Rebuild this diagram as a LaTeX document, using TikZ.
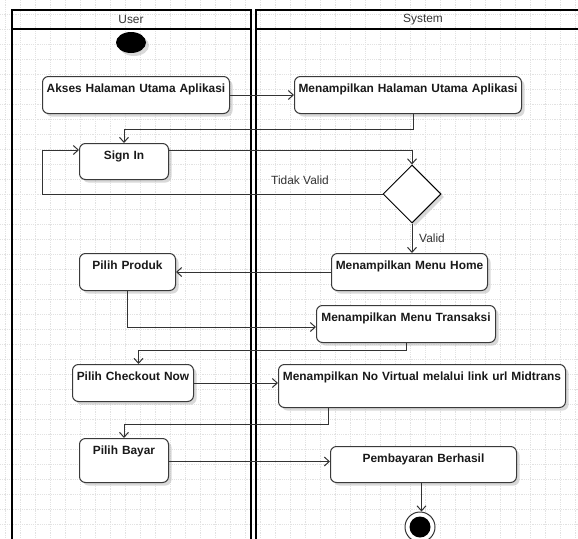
\documentclass[tikz,border=0pt]{standalone}
\usepackage{fontspec}
\setmainfont{Liberation Sans}
\usetikzlibrary{arrows.meta,shapes.geometric,shadows}

\definecolor{ink}{HTML}{333333}
\definecolor{boxline}{HTML}{3A3A3A}
\definecolor{gridc}{HTML}{E2E2E2}

\tikzset{
  gridline/.style={draw=gridc, line width=0.5pt, dash pattern=on 1.2pt off 1pt},
  lane/.style={draw=black, line width=2pt},
  lanehead/.style={font=\fontsize{11.9}{14}\selectfont, text=ink},
  boxshadow/.style={drop shadow={shadow xshift=3pt, shadow yshift=-3pt, fill=black!25, opacity=0.6}},
  act/.style 2 args={draw=boxline, line width=1pt, fill=white, rounded corners=6pt,
    anchor=north west, inner xsep=0pt, inner ysep=0pt,
    minimum width=#1pt, text width=#1pt, align=center,
    text height=16.3pt, text depth={#2pt-16.3pt},
    font=\bfseries\fontsize{11.9}{14}\selectfont, text=black!90, boxshadow},
  decision/.style={diamond, draw=black, line width=1pt, fill=white, aspect=1,
    minimum size=58pt, inner sep=0pt, boxshadow},
  startnode/.style={ellipse, fill=black, minimum width=30pt, minimum height=21pt,
    inner sep=0pt, boxshadow},
  endnode/.style={circle, draw=ink, line width=1pt, fill=white, minimum size=30pt,
    inner sep=0pt, path picture={\fill[black] (path picture bounding box.center) circle (10.5pt);}},
  flow/.style={draw=ink, line width=1pt, -{Straight Barb[length=5pt,width=9pt]}},
  guard/.style={font=\fontsize{11.9}{14}\selectfont, text=ink, inner sep=0pt},
}

\begin{document}
\begin{tikzpicture}[x=1pt, y=-1pt]
  \useasboundingbox (0,0) rectangle (578,538);
  \clip (0,0) rectangle (578,538);

  % background grid
  \foreach \i in {0,...,38}
    \draw[gridline] ({5.7+15*\i},0) -- ({5.7+15*\i},538);
  \foreach \j in {0,...,35}
    \draw[gridline] (0,{14.3+15*\j}) -- (578,{14.3+15*\j});

  % swimlanes
  \draw[lane] (12,545) |- (250.5,9.5) -- (250.5,545);
  \draw[lane] (12,29) -- (250.5,29);
  \draw[lane] (255.7,545) |- (595,9.5);
  \draw[lane] (255.7,29) -- (595,29);
  \node[lanehead] (userhd) at (131,19.5) {User};
  \node[lanehead] (syshd) at (423,19.5) {System};

  % activities
  \node[startnode] (start) at (131,42.5) {};
  \node[act={187}{37}] (akses) at (42,76) {Akses Halaman Utama Aplikasi};
  \node[act={227}{37}] (mhua) at (294,76) {Menampilkan Halaman Utama Aplikasi};
  \node[act={89}{36}] (signin) at (79,143) {Sign In};
  \node[decision] (dec) at (412,194) {};
  \node[act={96}{37}] (produk) at (79,253) {Pilih Produk};
  \node[act={156}{37}] (home) at (331,253) {Menampilkan Menu Home};
  \node[act={179}{37}] (trans) at (316,305) {Menampilkan Menu Transaksi};
  \node[act={121}{37}] (checkout) at (72,364) {Pilih Checkout Now};
  \node[act={287}{43}] (mnv) at (278,364) {Menampilkan No Virtual melalui link url Midtrans};
  \node[act={89}{44}] (bayar) at (79,438) {Pilih Bayar};
  \node[act={186}{36}] (pemb) at (330,446) {Pembayaran Berhasil};
  \node[endnode] (end) at (420,527) {};

  % control flow
  \draw[flow] (akses.east) -- (akses.east -| mhua.west);
  \draw[flow] ([xshift=5pt]mhua.south) -- ++(0,15) -| (signin.north);
  \draw[flow] ([yshift=-7pt]signin.north east) -| (dec.north);
  \draw[flow] (dec.west) -- (dec.west -| akses.west) |- ([yshift=-7pt]signin.north west);
  \node[guard] (tidak) at (300,180) {Tidak Valid};
  \draw[flow] (dec.south) -- (dec.south |- home.north);
  \node[guard, anchor=west] (valid) at (419,238) {Valid};
  \draw[flow] (home.west) -- (home.west -| produk.east);
  \draw[flow] (produk.south) |- ([yshift=-3pt]trans.west);
  \draw[flow] (trans.south) -- ++(0,7) -| ([xshift=5.5pt]checkout.north);
  \draw[flow] (checkout.east) -- (checkout.east -| mnv.west);
  \draw[flow] ([xshift=50pt]mnv.south west) -- ++(0,16) -| (bayar.north);
  \draw[flow] ([yshift=-1pt]bayar.east) -- ([yshift=-1pt]bayar.east -| pemb.west);
  \draw[flow] ([xshift=-2pt]pemb.south) -- ([xshift=-2pt]pemb.south |- end.north);
\end{tikzpicture}
\end{document}
